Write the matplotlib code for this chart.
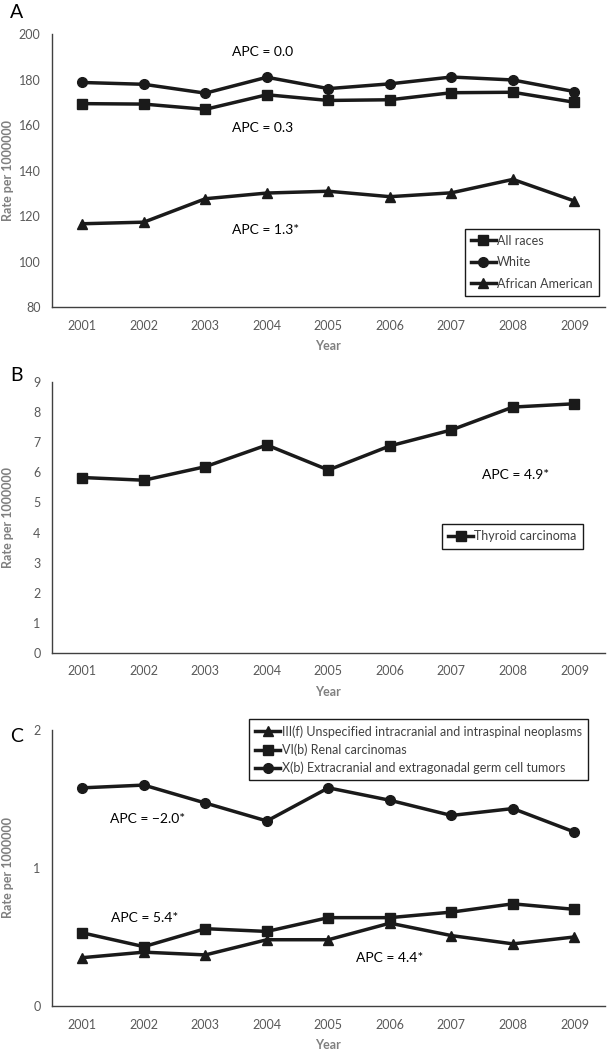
import matplotlib
matplotlib.use('Agg')
import matplotlib.pyplot as plt

plt.rcParams['font.family'] = ['Lato', 'DejaVu Sans']

years = [2001, 2002, 2003, 2004, 2005, 2006, 2007, 2008, 2009]

# panel A
all_races = [169.4, 169.2, 166.9, 173.3, 170.8, 171.1, 174.2, 174.4, 170.0]
white = [178.7, 177.9, 174.0, 181.0, 176.0, 178.1, 181.1, 179.8, 174.7]
african_american = [116.6, 117.3, 127.6, 130.1, 130.9, 128.5, 130.2, 136.1, 126.6]

# panel B
thyroid = [5.83, 5.74, 6.19, 6.91, 6.08, 6.88, 7.41, 8.17, 8.28]

# panel C
unspecified_cns = [0.35, 0.39, 0.37, 0.48, 0.48, 0.60, 0.51, 0.45, 0.50]
renal = [0.53, 0.43, 0.56, 0.54, 0.64, 0.64, 0.68, 0.74, 0.70]
germ_cell = [1.58, 1.60, 1.47, 1.34, 1.58, 1.49, 1.38, 1.43, 1.26]

line_c = '#1a1a1a'
tick_c = '#595959'
lab_c = '#7f7f7f'

fig = plt.figure(figsize=(6.07, 10.5), dpi=100)
axA = fig.add_axes([0.085, 0.7076, 0.912, 0.26])
axB = fig.add_axes([0.085, 0.3781, 0.912, 0.258])
axC = fig.add_axes([0.085, 0.0419, 0.912, 0.263])

kw = dict(color=line_c, lw=2.5, ms=7)


def style(ax, ylim, yticks):
    ax.set_xlim(2000.5, 2009.5)
    ax.set_ylim(*ylim)
    ax.set_yticks(yticks)
    ax.set_xticks(years)
    ax.spines['top'].set_visible(False)
    ax.spines['right'].set_visible(False)
    for s in ['left', 'bottom']:
        ax.spines[s].set_color('#404040')
        ax.spines[s].set_linewidth(1.0)
    ax.tick_params(axis='both', length=0, labelsize=9, labelcolor=tick_c)
    ax.tick_params(axis='x', pad=9)
    ax.tick_params(axis='y', pad=8)
    ax.set_xlabel('Year', fontsize=9, fontweight='bold', color=lab_c, labelpad=6)
    ax.set_ylabel('Rate per 1000000', fontsize=9, fontweight='bold', color=lab_c)
    ax.yaxis.set_label_coords(-0.068, 0.5)


def leg(ax, **k):
    lg = ax.legend(fancybox=False, framealpha=1, edgecolor='#1a1a1a', fontsize=9,
                   handlelength=2.0, handletextpad=0.1, borderpad=0.5, **k)
    lg.get_frame().set_linewidth(1.0)
    for t in lg.get_texts():
        t.set_color('#404040')
    return lg


# A
axA.plot(years, all_races, marker='s', label='All races', **kw)
axA.plot(years, white, marker='o', label='White', **kw)
axA.plot(years, african_american, marker='^', label='African American', **kw)
style(axA, (80, 200), range(80, 201, 20))
axA.text(2003.44, 192.1, 'APC = 0.0', fontsize=10, va='center')
axA.text(2003.44, 158.7, 'APC = 0.3', fontsize=10, va='center')
axA.text(2003.44, 113.8, 'APC = 1.3*', fontsize=10, va='center')
leg(axA, loc='lower right', bbox_to_anchor=(1.0, 0.018), labelspacing=0.75)

# B
axB.plot(years, thyroid, marker='s', label='Thyroid carcinoma', **kw)
style(axB, (0, 9), range(0, 10))
axB.text(2007.49, 5.91, 'APC = 4.9*', fontsize=10, va='center')
leg(axB, loc='lower right', bbox_to_anchor=(0.971, 0.362))

# C
axC.plot(years, unspecified_cns, marker='^',
         label='III(f) Unspecified intracranial and intraspinal neoplasms', **kw)
axC.plot(years, renal, marker='s', label='VI(b) Renal carcinomas', **kw)
axC.plot(years, germ_cell, marker='o',
         label='X(b) Extracranial and extragonadal germ cell tumors', **kw)
style(axC, (0, 2), [0, 1, 2])
axC.text(2001.45, 1.353, 'APC = \u22122.0*', fontsize=10, va='center')
axC.text(2001.47, 0.64, 'APC = 5.4*', fontsize=10, va='center')
axC.text(2005.45, 0.346, 'APC = 4.4*', fontsize=10, va='center')
leg(axC, loc='upper right', bbox_to_anchor=(0.98, 1.062), labelspacing=0.45)

for lab, y in [('A', 12), ('B', 375), ('C', 737)]:
    fig.text(10 / 607, 1 - y / 1050, lab, fontsize=14, va='center', ha='left')

fig.savefig('out.png', dpi=100)
